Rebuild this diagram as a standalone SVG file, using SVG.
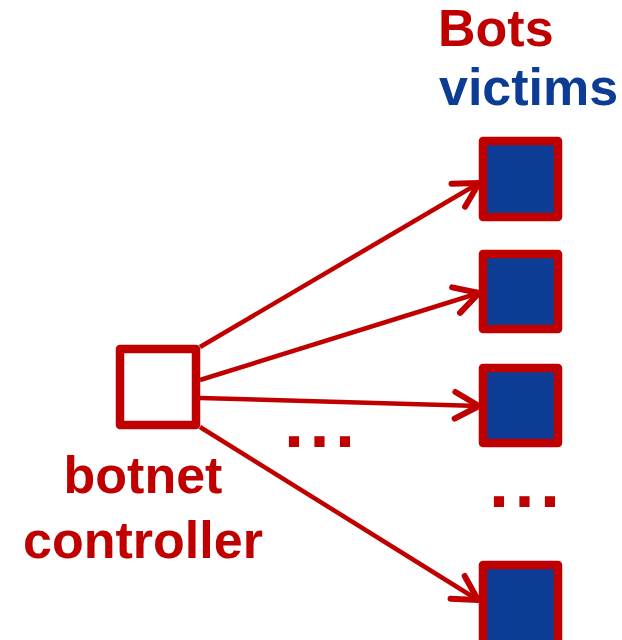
<svg xmlns="http://www.w3.org/2000/svg" width="622" height="640" viewBox="0 0 622 640">
  <style>
    .lbl { font-family: "Liberation Sans", Arial, sans-serif; font-weight: bold; font-size: 52px; }
    .red { fill: #C00000; }
    .blue { fill: #0D3C94; }
    .dots { font-family: "Liberation Sans", Arial, sans-serif; font-weight: bold; font-size: 72px; letter-spacing: 5.5px; fill: #C00000; }
    .ctrl { fill: #FFFFFF; stroke: #C00000; stroke-width: 8.5; stroke-linejoin: round; }
    .bot { fill: #0D3C94; stroke: #C00000; stroke-width: 8.5; stroke-linejoin: round; }
    .conn { fill: none; stroke: #C00000; stroke-width: 4.5; }
  </style>
  <defs>
    <marker id="arrow" markerUnits="userSpaceOnUse" markerWidth="40" markerHeight="40" viewBox="-25 -15 30 30" refX="0" refY="0" orient="auto" overflow="visible">
      <path d="M-18,-10 L0,0 L-18,10" fill="none" stroke="#C00000" stroke-width="4.5" stroke-linecap="round" stroke-linejoin="round"/>
    </marker>
  </defs>
  <rect width="622" height="640" fill="#FFFFFF"/>

  <g id="controller">
    <rect class="ctrl" x="120" y="349" width="76" height="76"/>
    <text class="lbl red" x="143" y="493" text-anchor="middle">botnet</text>
    <text class="lbl red" x="143" y="558" text-anchor="middle">controller</text>
  </g>

  <g id="header">
    <text class="lbl red" x="438" y="46">Bots</text>
    <text class="lbl blue" x="439" y="105">victims</text>
  </g>

  <g id="bot1"><rect class="bot" x="483" y="141" width="75" height="76"/></g>
  <g id="bot2"><rect class="bot" x="483" y="254" width="75" height="75"/></g>
  <g id="bot3"><rect class="bot" x="483" y="368" width="75" height="75"/></g>
  <g id="bot4"><rect class="bot" x="483" y="565" width="75" height="80"/></g>

  <g id="ellipses">
    <text class="dots" x="284" y="447">...</text>
    <text class="dots" x="489" y="507">...</text>
  </g>

  <g id="connectors">
    <line class="conn" x1="200" y1="347" x2="479" y2="183" marker-end="url(#arrow)"/>
    <line class="conn" x1="200" y1="380" x2="479" y2="293" marker-end="url(#arrow)"/>
    <line class="conn" x1="200" y1="398" x2="479" y2="406" marker-end="url(#arrow)"/>
    <line class="conn" x1="200" y1="427" x2="478" y2="600" marker-end="url(#arrow)"/>
  </g>
</svg>
